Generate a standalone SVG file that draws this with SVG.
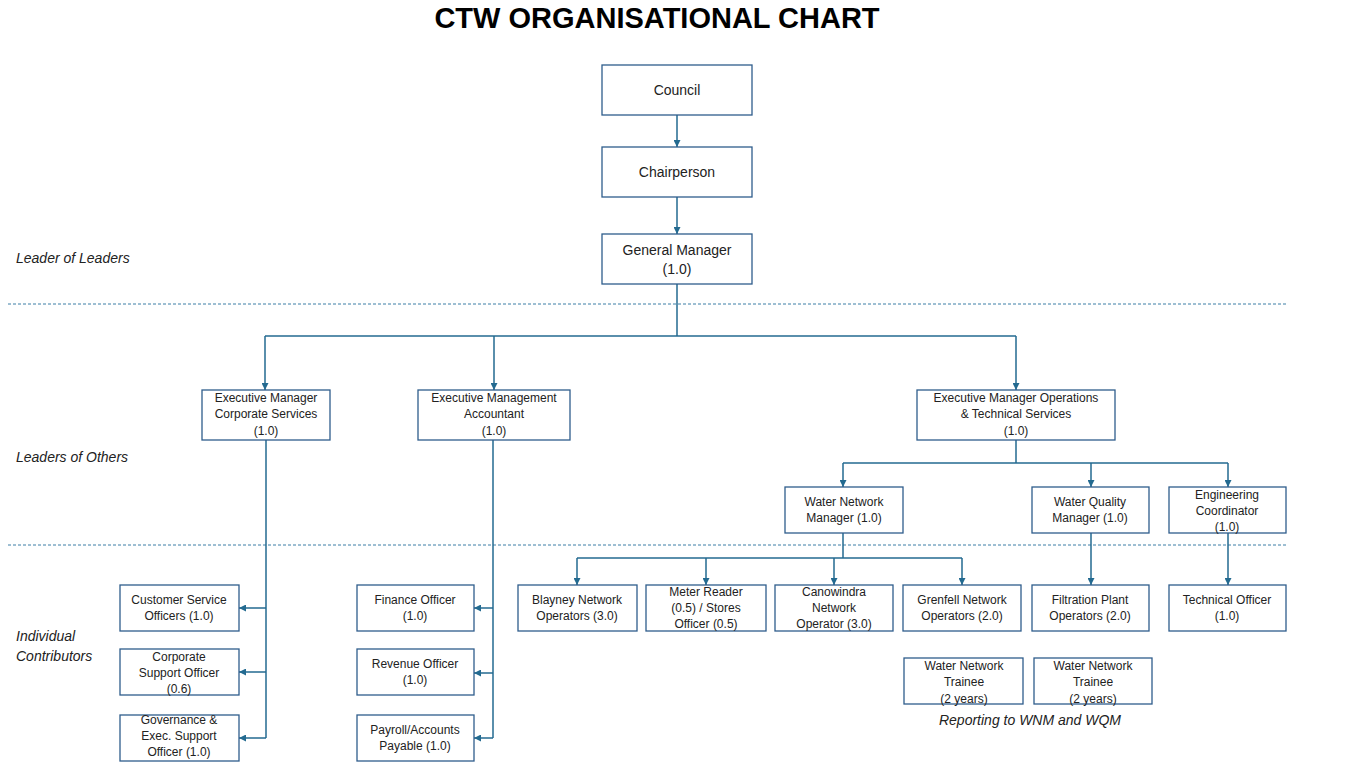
<svg xmlns="http://www.w3.org/2000/svg" width="1366" height="768" viewBox="0 0 1366 768">
<style>
.bg{fill:#ffffff}
.box{fill:#ffffff;stroke:#2f5d8c;stroke-width:1.3}
.t{font-family:"Liberation Sans",Arial,sans-serif;font-size:12px;fill:#222222;text-anchor:middle}
.tl{font-family:"Liberation Sans",Arial,sans-serif;font-size:14px;fill:#222222;text-anchor:middle}
.lab{font-family:"Liberation Sans",Arial,sans-serif;font-size:14px;font-style:italic;fill:#222222}
.title{font-family:"Liberation Sans",Arial,sans-serif;font-size:29px;font-weight:bold;fill:#000000;text-anchor:middle}
.c{fill:none;stroke:#236a90;stroke-width:1.5}
.ca{fill:none;stroke:#236a90;stroke-width:1.5;marker-end:url(#ah)}
.dash{stroke:#3d7ea6;stroke-width:1;stroke-dasharray:3,2}
</style>
<defs>
<marker id="ah" viewBox="0 0 10 10" refX="10" refY="5" markerWidth="7" markerHeight="7" markerUnits="userSpaceOnUse" orient="auto">
<path d="M0,0 L10,5 L0,10 z" fill="#236a90"/>
</marker>
</defs>
<rect class="bg" x="0" y="0" width="1366" height="768"/>
<text class="title" x="657" y="28">CTW ORGANISATIONAL CHART</text>

<g id="bands">
<line class="dash" x1="8" y1="304" x2="1286" y2="304"/>
<line class="dash" x1="8" y1="545" x2="1286" y2="545"/>
<text class="lab" x="16" y="263">Leader of Leaders</text>
<text class="lab" x="16" y="462">Leaders of Others</text>
<text class="lab" x="16" y="641">Individual</text>
<text class="lab" x="16" y="661">Contributors</text>
<text class="lab" x="1030" y="725" text-anchor="middle">Reporting to WNM and WQM</text>
</g>

<g id="connectors">
<path class="ca" d="M677,115 V147"/>
<path class="ca" d="M677,197 V234"/>
<path class="c" d="M677,284 V336"/>
<path class="c" d="M265,336 H1016"/>
<path class="ca" d="M265,336 V390"/>
<path class="ca" d="M494,336 V390"/>
<path class="ca" d="M1016,336 V390"/>
<path class="c" d="M1016,440 V463"/>
<path class="c" d="M843,463 H1228"/>
<path class="ca" d="M843,463 V487"/>
<path class="ca" d="M1091,463 V487"/>
<path class="ca" d="M1228,463 V487"/>
<path class="c" d="M843,533 V558"/>
<path class="c" d="M577,558 H962"/>
<path class="ca" d="M577,558 V585"/>
<path class="ca" d="M706,558 V585"/>
<path class="ca" d="M834,558 V585"/>
<path class="ca" d="M962,558 V585"/>
<path class="ca" d="M1091,533 V585"/>
<path class="ca" d="M1228,533 V585"/>
<path class="c" d="M266,440 V738"/>
<path class="ca" d="M266,608 H239"/>
<path class="ca" d="M266,672 H239"/>
<path class="ca" d="M266,738 H239"/>
<path class="c" d="M493,440 V738"/>
<path class="ca" d="M493,608 H474"/>
<path class="ca" d="M493,673 H474"/>
<path class="ca" d="M493,738 H474"/>
</g>

<g id="council"><rect class="box" x="602" y="65" width="150" height="50"/><text class="tl" x="677" y="95">Council</text></g>
<g id="chairperson"><rect class="box" x="602" y="147" width="150" height="50"/><text class="tl" x="677" y="177">Chairperson</text></g>
<g id="gm"><rect class="box" x="602" y="234" width="150" height="50"/><text class="tl" x="677" y="255">General Manager</text><text class="tl" x="677" y="274">(1.0)</text></g>

<g id="emcs"><rect class="box" x="202" y="390" width="128" height="50"/><text class="t" x="266" y="402">Executive Manager</text><text class="t" x="266" y="418">Corporate Services</text><text class="t" x="266" y="435">(1.0)</text></g>
<g id="ema"><rect class="box" x="418" y="390" width="152" height="50"/><text class="t" x="494" y="402">Executive Management</text><text class="t" x="494" y="418">Accountant</text><text class="t" x="494" y="435">(1.0)</text></g>
<g id="emops"><rect class="box" x="917" y="390" width="198" height="50"/><text class="t" x="1016" y="402">Executive Manager Operations</text><text class="t" x="1016" y="418">&amp; Technical Services</text><text class="t" x="1016" y="435">(1.0)</text></g>

<g id="wnm"><rect class="box" x="785" y="487" width="118" height="46"/><text class="t" x="844" y="506">Water Network</text><text class="t" x="844" y="522">Manager (1.0)</text></g>
<g id="wqm"><rect class="box" x="1032" y="487" width="117" height="46"/><text class="t" x="1090" y="506">Water Quality</text><text class="t" x="1090" y="522">Manager (1.0)</text></g>
<g id="eng"><rect class="box" x="1169" y="487" width="117" height="46"/><text class="t" x="1227" y="499">Engineering</text><text class="t" x="1227" y="515">Coordinator</text><text class="t" x="1227" y="531">(1.0)</text></g>

<g id="blayney"><rect class="box" x="518" y="585" width="119" height="46"/><text class="t" x="577" y="604">Blayney Network</text><text class="t" x="577" y="620">Operators (3.0)</text></g>
<g id="meter"><rect class="box" x="646" y="585" width="120" height="46"/><text class="t" x="706" y="596">Meter Reader</text><text class="t" x="706" y="612">(0.5) / Stores</text><text class="t" x="706" y="628">Officer (0.5)</text></g>
<g id="canowindra"><rect class="box" x="775" y="585" width="118" height="46"/><text class="t" x="834" y="596">Canowindra</text><text class="t" x="834" y="612">Network</text><text class="t" x="834" y="628">Operator (3.0)</text></g>
<g id="grenfell"><rect class="box" x="903" y="585" width="118" height="46"/><text class="t" x="962" y="604">Grenfell Network</text><text class="t" x="962" y="620">Operators (2.0)</text></g>
<g id="filtration"><rect class="box" x="1032" y="585" width="117" height="46"/><text class="t" x="1090" y="604">Filtration Plant</text><text class="t" x="1090" y="620">Operators (2.0)</text></g>
<g id="technical"><rect class="box" x="1169" y="585" width="117" height="46"/><text class="t" x="1227" y="604">Technical Officer</text><text class="t" x="1227" y="620">(1.0)</text></g>

<g id="trainee1"><rect class="box" x="904" y="658" width="119" height="46"/><text class="t" x="964" y="670">Water Network</text><text class="t" x="964" y="686">Trainee</text><text class="t" x="964" y="703">(2 years)</text></g>
<g id="trainee2"><rect class="box" x="1034" y="658" width="118" height="46"/><text class="t" x="1093" y="670">Water Network</text><text class="t" x="1093" y="686">Trainee</text><text class="t" x="1093" y="703">(2 years)</text></g>

<g id="cso"><rect class="box" x="120" y="585" width="119" height="46"/><text class="t" x="179" y="604">Customer Service</text><text class="t" x="179" y="620">Officers (1.0)</text></g>
<g id="cspo"><rect class="box" x="120" y="649" width="119" height="46"/><text class="t" x="179" y="661">Corporate</text><text class="t" x="179" y="677">Support Officer</text><text class="t" x="179" y="693">(0.6)</text></g>
<g id="gov"><rect class="box" x="120" y="715" width="119" height="46"/><text class="t" x="179" y="724">Governance &amp;</text><text class="t" x="179" y="740">Exec. Support</text><text class="t" x="179" y="756">Officer (1.0)</text></g>

<g id="finance"><rect class="box" x="357" y="585" width="117" height="46"/><text class="t" x="415" y="604">Finance Officer</text><text class="t" x="415" y="620">(1.0)</text></g>
<g id="revenue"><rect class="box" x="357" y="649" width="117" height="46"/><text class="t" x="415" y="668">Revenue Officer</text><text class="t" x="415" y="684">(1.0)</text></g>
<g id="payroll"><rect class="box" x="357" y="715" width="117" height="46"/><text class="t" x="415" y="734">Payroll/Accounts</text><text class="t" x="415" y="750">Payable (1.0)</text></g>
</svg>
